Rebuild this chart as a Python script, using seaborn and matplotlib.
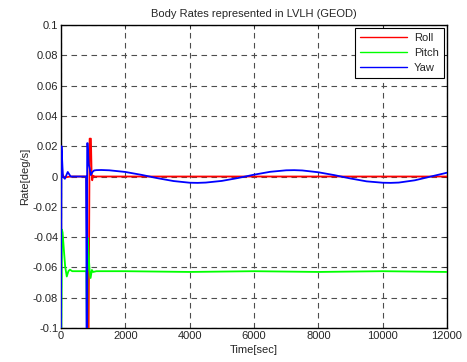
import pandas as pd
import numpy as np
import matplotlib
matplotlib.use('Agg')
import matplotlib.pyplot as plt
import seaborn as sns

# values
t_roll = [0, 15, 40, 80, 150, 300, 500, 700, 790, 810, 830, 860, 890, 930, 950, 970, 1000, 1050, 1200,
          2000, 4000, 6000, 8000, 10000, 12000]
roll = [0.018, 0.017, 0.002, 0.0, -0.0005, 0.0, 0.0, 0.0, 0.0, -0.05, -0.1, -0.1, 0.025, 0.025, 0.004, -0.0025, 0.0005, 0.0, 0.0,
        0.0, 0.0, 0.0, 0.0, 0.0, 0.0]

t_pitch = [0, 10, 30, 50, 90, 130, 180, 230, 280, 350, 500, 700, 790, 805, 815, 830, 860, 890, 920, 960, 1000, 1100,
           2000, 4000, 6000, 8000, 10000, 12000]
pitch = [-0.1, -0.1, -0.035, -0.037, -0.0485, -0.0595, -0.066, -0.0625, -0.0615, -0.0625, -0.0625, -0.0625, -0.0625, -0.1, -0.1, -0.0405,
         -0.052, -0.062, -0.067, -0.0617, -0.063, -0.0625, -0.0625, -0.063, -0.0625, -0.063, -0.0625, -0.063]

t_yaw = [0, 15, 60, 120, 210, 300, 500, 780, 800, 815, 830, 860, 890, 925, 980, 1030, 1100, 1250, 1500,
         2000, 2500, 3000, 3500, 4000, 4250, 4500, 5000, 5500, 6000, 6500, 7000, 7250, 7500, 8000, 8500,
         9000, 9500, 10000, 10250, 10500, 11000, 11500, 12000]
yaw = [-0.1, 0.02, 0.0, -0.0015, 0.003, 0.0, 0.0, 0.0, -0.1, 0.022, 0.022, 0.008, 0.0056, 0.001, 0.003, 0.004, 0.0042, 0.0043, 0.0041,
       0.0030, 0.0011, -0.0011, -0.0030, -0.0041, -0.0042, -0.0040, -0.0029, -0.0010, 0.0012, 0.0031, 0.0041, 0.0042, 0.0040, 0.0028, 0.0009,
       -0.0013, -0.0032, -0.0041, -0.0042, -0.0040, -0.0025, 0.0000, 0.0025]

df = pd.concat([
    pd.DataFrame({'time': t_roll, 'rate': roll, 'axis': 'Roll'}),
    pd.DataFrame({'time': t_pitch, 'rate': pitch, 'axis': 'Pitch'}),
    pd.DataFrame({'time': t_yaw, 'rate': yaw, 'axis': 'Yaw'}),
])

sns.set_style('white')
plt.rcParams['font.family'] = ['Liberation Sans', 'DejaVu Sans']
plt.rcParams['axes.unicode_minus'] = False
plt.rcParams['xtick.direction'] = 'in'
plt.rcParams['ytick.direction'] = 'in'

fig = plt.figure(figsize=(4.67, 3.62), dpi=100)
ax = fig.add_axes([0.1306, 0.0939, 0.8266, 0.837])

pal = {'Roll': '#ff0000', 'Pitch': '#00ff00', 'Yaw': '#0000ff'}
sns.lineplot(data=df, x='time', y='rate', hue='axis', palette=pal, sort=False,
             estimator=None, ax=ax, linewidth=1.3, zorder=3)

ax.set_xlim(0, 12000)
ax.set_ylim(-0.1, 0.1)
xt = [0, 2000, 4000, 6000, 8000, 10000, 12000]
yt = [-0.1, -0.08, -0.06, -0.04, -0.02, 0, 0.02, 0.04, 0.06, 0.08, 0.1]
ax.set_xticks(xt)
ax.set_xticklabels([str(v) for v in xt])
ax.set_yticks(yt)
ax.set_yticklabels(['-0.1', '-0.08', '-0.06', '-0.04', '-0.02', '0', '0.02', '0.04', '0.06', '0.08', '0.1'])
ax.tick_params(labelsize=8, length=3, width=0.6, top=True, right=True, pad=2)
ax.grid(True, color='0.3', linestyle=(0, (5, 4)), linewidth=0.8)
for s in ax.spines.values():
    s.set_color('black')
    s.set_linewidth(1.0)

ax.set_title('Body Rates represented in LVLH (GEOD)', fontsize=8, pad=6)
ax.set_xlabel('Time[sec]', fontsize=8, labelpad=3)
ax.set_ylabel('Rate[deg/s]', fontsize=8, labelpad=2)

leg = ax.legend(loc='upper right', fontsize=8, frameon=True, fancybox=False,
                edgecolor='black', framealpha=1, handlelength=4.2, borderpad=0.45,
                labelspacing=0.45, handletextpad=0.6, borderaxespad=0.3)
leg.get_frame().set_linewidth(0.8)
for line in leg.get_lines():
    line.set_linewidth(1.0)

fig.savefig('out.png', dpi=100)
